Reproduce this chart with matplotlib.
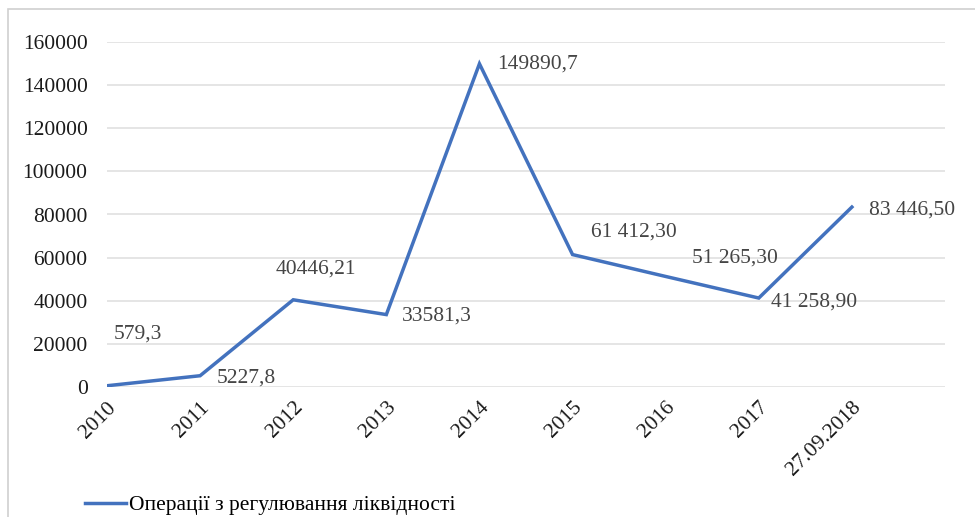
import matplotlib
matplotlib.use("Agg")
import matplotlib.pyplot as plt
from matplotlib.patches import Rectangle

# data
categories = ["2010", "2011", "2012", "2013", "2014", "2015", "2016", "2017", "27.09.2018"]
values = [579.3, 5227.8, 40446.21, 33581.3, 149890.7, 61412.30, 51265.30, 41258.90, 83446.50]
value_labels = ["579,3", "5227,8", "40446,21", "33581,3", "149890,7",
                "61 412,30", "51 265,30", "41 258,90", "83 446,50"]
series_name = "Операції з регулювання ліквідності"
yticks = [0, 20000, 40000, 60000, 80000, 100000, 120000, 140000, 160000]

# label offsets in points (dx, dy)
offsets = [(5, 37), (12, -2), (-13, 22), (11, -1), (13, 0),
           (13, 16), (19, 13), (9, -3), (12, -2)]

plt.rcParams['font.family'] = ['Liberation Serif', 'DejaVu Serif']
FS = 15.5

fig = plt.figure(figsize=(9.75, 5.17), dpi=100)
ax = fig.add_axes([107/975, 1 - 387/517, (945 - 107)/975, (387 - 42)/517])

x = list(range(len(categories)))
ax.plot(x, values, color='#4372BE', lw=2.5, solid_joinstyle='miter')

for xi, v, lab, (dx, dy) in zip(x, values, value_labels, offsets):
    ax.annotate(lab, (xi, v), xytext=(dx, dy), textcoords='offset points',
                ha='left', va='center', fontsize=FS, color='#454545')

ax.set_xlim(0, 9)
ax.set_ylim(0, 160000)
ax.set_yticks(yticks)
ax.set_yticklabels([str(t) for t in yticks], fontsize=FS, color='#1a1a1a')
ax.set_xticks(x)
ax.set_xticklabels(categories, rotation=45, ha='right', va='top',
                   rotation_mode='anchor', fontsize=FS, color='#1a1a1a')
ax.tick_params(axis='y', length=0, pad=14)
ax.tick_params(axis='x', length=0, pad=8)
ax.grid(axis='y', color='#e0e0e0', lw=1.2)
ax.set_axisbelow(True)
for s in ax.spines.values():
    s.set_visible(False)

line_handle = plt.Line2D([], [], color='#4372BE', lw=2.5)
fig.legend([line_handle], [series_name], loc='center left',
           bbox_to_anchor=(85/975, 1 - 505/517), frameon=False,
           borderaxespad=0, borderpad=0,
           fontsize=FS, handlelength=1.9, handletextpad=0.15)

fig.patches.append(Rectangle((8/975, -0.05), 1.0, 1 - 9/517 + 0.05,
                             transform=fig.transFigure, fill=False,
                             edgecolor='#d0d0d0', lw=1.2))

fig.savefig("out.png", dpi=100)
